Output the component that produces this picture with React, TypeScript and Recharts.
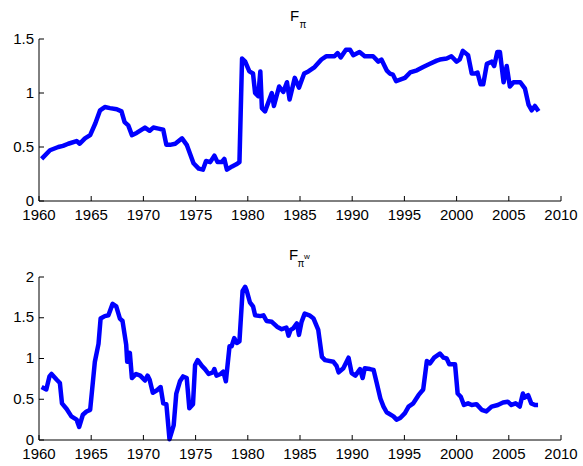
import React from "react";
import { LineChart, Line, XAxis, YAxis } from "recharts";

const xTicks = [1960, 1965, 1970, 1975, 1980, 1985, 1990, 1995, 2000, 2005, 2010];
const topYTicks = [0, 0.5, 1, 1.5];
const bottomYTicks = [0, 0.5, 1, 1.5, 2];

const topYears = [
  1960.25, 1961.05, 1961.85, 1962.3, 1962.8, 1963.6, 1963.9, 1964.4, 1964.9, 1965.4,
  1965.85, 1966.3, 1966.8, 1967.45, 1967.9, 1968.2, 1968.55, 1968.9, 1969.35, 1970.15,
  1970.6, 1970.95, 1971.45, 1971.9, 1972.2, 1972.55, 1973.05, 1973.7, 1974.15, 1974.8,
  1975.3, 1975.7, 1976.0, 1976.4, 1976.8, 1977.1, 1977.5, 1977.75, 1978.0, 1978.5,
  1978.9, 1979.2, 1979.45, 1979.75, 1980.15, 1980.5, 1980.7, 1981.0, 1981.2, 1981.35,
  1981.65, 1982.3, 1982.5, 1983.0, 1983.4, 1983.75, 1984.0, 1984.5, 1984.9, 1985.4,
  1985.8, 1986.4, 1987.05, 1987.5, 1988.3, 1988.6, 1988.9, 1989.4, 1989.8, 1990.1,
  1990.7, 1991.2, 1992.0, 1992.5, 1992.8, 1993.3, 1993.6, 1993.9, 1994.2, 1995.05,
  1995.55, 1996.2, 1996.8, 1997.45, 1998.1, 1998.4, 1999.05, 1999.5, 2000.0, 2000.3,
  2000.6, 2001.1, 2001.45, 2001.75, 2002.0, 2002.3, 2002.55, 2002.9, 2003.35, 2003.6,
  2003.9, 2004.15, 2004.5, 2004.8, 2005.1, 2005.45, 2006.1, 2006.55, 2006.9, 2007.2,
  2007.5, 2007.85,
];
const topValues = [
  0.39, 0.47, 0.5, 0.51, 0.53, 0.555, 0.53, 0.58, 0.61, 0.72,
  0.84, 0.87, 0.86, 0.85, 0.83, 0.73, 0.7, 0.61, 0.63, 0.68,
  0.65, 0.68, 0.67, 0.66, 0.52, 0.52, 0.53, 0.58, 0.52, 0.35,
  0.3, 0.29, 0.37, 0.36, 0.42, 0.36, 0.36, 0.39, 0.29, 0.32,
  0.34, 0.36, 1.32, 1.29, 1.2, 1.18, 1.0, 0.97, 1.2, 0.86,
  0.83, 1.0, 0.88, 1.06, 1.01, 1.1, 0.94, 1.14, 1.05, 1.18,
  1.2, 1.24, 1.31, 1.34, 1.34, 1.37, 1.33, 1.4, 1.4, 1.35,
  1.38, 1.34, 1.34, 1.29, 1.31, 1.21, 1.18, 1.17, 1.11, 1.14,
  1.19, 1.21, 1.24, 1.27, 1.3, 1.31, 1.32, 1.34, 1.29, 1.31,
  1.39, 1.35, 1.18, 1.18, 1.19, 1.08, 1.08, 1.27, 1.29, 1.25,
  1.38, 1.38, 1.1, 1.25, 1.06, 1.1, 1.1, 1.04, 0.89, 0.84,
  0.88, 0.83,
];

const bottomYears = [
  1960.25, 1960.7, 1961.0, 1961.2, 1961.7, 1962.0, 1962.2, 1962.65, 1963.1, 1963.6,
  1963.85, 1964.2, 1964.55, 1964.9, 1965.35, 1965.7, 1965.9, 1966.3, 1966.65, 1967.05,
  1967.4, 1967.75, 1968.0, 1968.35, 1968.45, 1968.7, 1968.9, 1969.3, 1969.7, 1970.15,
  1970.4, 1970.6, 1970.9, 1971.3, 1971.65, 1971.9, 1972.2, 1972.5, 1972.9, 1973.15,
  1973.5, 1973.8, 1974.15, 1974.4, 1974.75, 1974.95, 1975.2, 1975.6, 1975.9, 1976.25,
  1976.65, 1976.8, 1977.0, 1977.4, 1977.65, 1977.9, 1978.25, 1978.45, 1978.7, 1978.95,
  1979.2, 1979.5, 1979.75, 1979.9, 1980.2, 1980.5, 1980.7, 1981.2, 1981.5, 1981.8,
  1982.3, 1982.8, 1983.25, 1983.7, 1983.9, 1984.1, 1984.35, 1984.7, 1984.9, 1985.15,
  1985.45, 1985.9, 1986.3, 1986.75, 1987.1, 1987.4, 1988.2, 1988.5, 1988.7, 1989.15,
  1989.65, 1989.95, 1990.3, 1990.75, 1991.0, 1991.2, 1991.7, 1992.05, 1992.35, 1992.7,
  1993.0, 1993.3, 1993.95, 1994.25, 1994.6, 1995.05, 1995.4, 1995.85, 1996.35, 1996.8,
  1997.15, 1997.45, 1997.85, 1998.4, 1998.75, 1999.05, 1999.3, 1999.85, 2000.1, 2000.4,
  2000.7, 2001.1, 2001.45, 2001.9, 2002.4, 2002.85, 2003.35, 2003.95, 2004.45, 2004.9,
  2005.25, 2005.65, 2006.05, 2006.35, 2006.5, 2006.85, 2007.15, 2007.5, 2007.8,
];
const bottomValues = [
  0.65, 0.62, 0.78, 0.81, 0.74, 0.7, 0.45, 0.38, 0.29, 0.25,
  0.16, 0.31, 0.35, 0.37, 0.96, 1.18, 1.49, 1.52, 1.53, 1.67,
  1.64, 1.49, 1.46, 1.17, 0.96, 1.07, 0.76, 0.81, 0.79, 0.73,
  0.79, 0.74, 0.58, 0.61, 0.65, 0.45, 0.44, 0.01, 0.18, 0.57,
  0.72, 0.78, 0.76, 0.39, 0.44, 0.92, 0.98, 0.91, 0.87, 0.81,
  0.83, 0.87, 0.79, 0.81, 0.84, 0.72, 1.15, 1.15, 1.25, 1.19,
  1.21, 1.83, 1.88, 1.83, 1.69, 1.64, 1.53, 1.52, 1.53, 1.46,
  1.45, 1.39, 1.36, 1.38, 1.28, 1.35, 1.37, 1.43, 1.29, 1.45,
  1.55, 1.53, 1.49, 1.35, 1.02, 0.98, 0.96, 0.91, 0.83, 0.88,
  1.01, 0.82, 0.79, 0.87, 0.76, 0.88, 0.87, 0.86, 0.7, 0.51,
  0.41, 0.34, 0.29, 0.25, 0.27, 0.33, 0.41, 0.45, 0.55, 0.62,
  0.97, 0.94, 1.01, 1.06, 1.01, 1.0, 0.93, 0.93, 0.57, 0.53,
  0.43, 0.45, 0.43, 0.44, 0.37, 0.35, 0.41, 0.43, 0.46, 0.47,
  0.43, 0.45, 0.41, 0.57, 0.52, 0.55, 0.45, 0.43, 0.43,
];

const topData = topYears.map((year, i) => ({ year, value: topValues[i] }));
const bottomData = bottomYears.map((year, i) => ({ year, value: bottomValues[i] }));

const FONT = "'Liberation Sans', Arial, Helvetica, sans-serif";
const TL = 5;

const BottomTick = (props: any) => {
  const { x, y, payload } = props;
  return (
    <g>
      <line x1={x} x2={x} y1={y} y2={y - TL} stroke="#000" strokeWidth={1} />
      <text x={x} y={y + 18.5} textAnchor="middle" fontSize={15} fontFamily={FONT} fill="#000">
        {payload.value}
      </text>
    </g>
  );
};
const TopTick = (props: any) => {
  const { x, y } = props;
  return <line x1={x} x2={x} y1={y} y2={y + TL} stroke="#000" strokeWidth={1} />;
};
const LeftTick = (props: any) => {
  const { x, y, payload } = props;
  return (
    <g>
      <line x1={x} x2={x + TL} y1={y} y2={y} stroke="#000" strokeWidth={1} />
      <text x={x - 5} y={y + 4.5} textAnchor="end" fontSize={15} fontFamily={FONT} fill="#000">
        {payload.value}
      </text>
    </g>
  );
};
const RightTick = (props: any) => {
  const { x, y } = props;
  return <line x1={x} x2={x - TL} y1={y} y2={y} stroke="#000" strokeWidth={1} />;
};

const Panel = ({ data, yTicks, yMax, top, plotH }: any) => (
  <LineChart
    width={583}
    height={233}
    data={data}
    margin={{ top, right: 22, bottom: 233 - top - plotH - 20, left: 0 }}
  >
    <XAxis
      xAxisId="b"
      dataKey="year"
      type="number"
      domain={[1960, 2010]}
      ticks={xTicks}
      orientation="bottom"
      height={20}
      tickSize={0}
      tickMargin={0}
      tickLine={false}
      axisLine={{ stroke: "#000" }}
      tick={<BottomTick />}
      interval={0}
    />
    <XAxis
      xAxisId="t"
      dataKey="year"
      type="number"
      domain={[1960, 2010]}
      ticks={xTicks}
      orientation="top"
      height={0}
      tickSize={0}
      tickMargin={0}
      tickLine={false}
      axisLine={{ stroke: "#000" }}
      tick={<TopTick />}
      interval={0}
    />
    <YAxis
      yAxisId="l"
      type="number"
      domain={[0, yMax]}
      ticks={yTicks}
      orientation="left"
      width={39}
      tickSize={0}
      tickMargin={0}
      tickLine={false}
      axisLine={{ stroke: "#000" }}
      tick={<LeftTick />}
      interval={0}
    />
    <YAxis
      yAxisId="r"
      type="number"
      domain={[0, yMax]}
      ticks={yTicks}
      orientation="right"
      width={0}
      tickSize={0}
      tickMargin={0}
      tickLine={false}
      axisLine={{ stroke: "#000" }}
      tick={<RightTick />}
      interval={0}
    />
    <Line
      xAxisId="b"
      yAxisId="l"
      dataKey="value"
      type="linear"
      stroke="#0000ff"
      strokeWidth={4.5}
      strokeLinejoin="round"
      dot={false}
      isAnimationActive={false}
    />
  </LineChart>
);

export default function App() {
  return (
    <div style={{ position: "absolute", left: 0, top: 0, width: 583, height: 466, background: "#fff" }}>
      <div style={{ position: "absolute", left: 0, top: 0 }}>
        <Panel data={topData} yTicks={topYTicks} yMax={1.5} top={39} plotH={162} />
      </div>
      <div style={{ position: "absolute", left: 0, top: 233 }}>
        <Panel data={bottomData} yTicks={bottomYTicks} yMax={2} top={44} plotH={163} />
      </div>
      <svg
        width={583}
        height={466}
        style={{ position: "absolute", left: 0, top: 0, pointerEvents: "none" }}
      >
        <text x={290} y={21} fontSize={15} fontFamily={FONT} fill="#000">F</text>
        <text x={299.5} y={27.5} fontSize={10} fontFamily={FONT} fill="#000">π</text>
        <text x={289} y={259.5} fontSize={15} fontFamily={FONT} fill="#000">F</text>
        <text x={297.5} y={266.5} fontSize={10} fontFamily={FONT} fill="#000">π</text>
        <text x={304} y={258.5} fontSize={8} fontFamily={FONT} fill="#000">w</text>
      </svg>
    </div>
  );
}
